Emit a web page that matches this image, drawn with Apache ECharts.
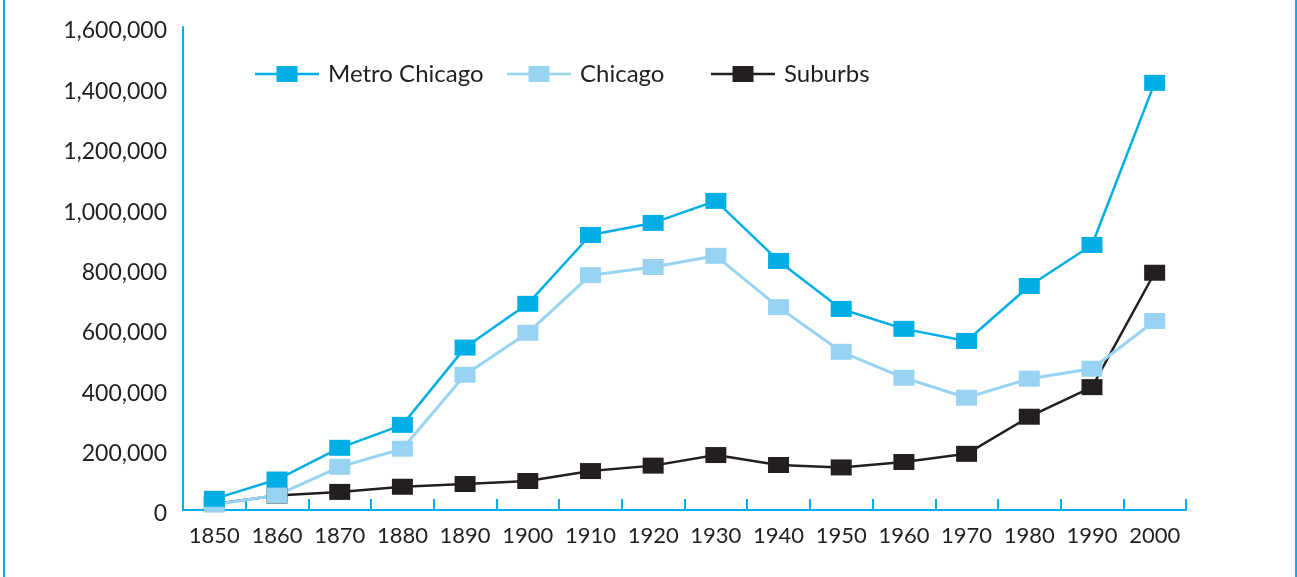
<!DOCTYPE html>
<html>
<head>
<meta charset="utf-8">
<script src="https://cdn.jsdelivr.net/npm/echarts@6/dist/echarts.min.js"></script>
<style>
  html, body { margin: 0; padding: 0; background: #fff; }
  #main { width: 1297px; height: 577px; }
</style>
</head>
<body>
<div id="main"></div>
<script>
// decades on the x axis
var years = ["1850", "1860", "1870", "1880", "1890", "1900", "1910", "1920",
  "1930", "1940", "1950", "1960", "1970", "1980", "1990", "2000"];
// values
var metroChicago = [37000, 101000, 206000, 282000, 538000, 683000, 911000, 951000,
  1024000, 825000, 666000, 600000, 560000, 742000, 878000, 1415000];
var chicago = [18000, 49000, 143000, 203000, 448000, 587000, 778000, 805000,
  842000, 672000, 524000, 438000, 372000, 435000, 468000, 626000];
var suburbs = [20000, 48000, 60000, 77000, 86000, 96000, 129000, 147000,
  182000, 149000, 141000, 159000, 186000, 309000, 407000, 786000];
var yTicks = [0, 200000, 400000, 600000, 800000, 1000000, 1200000, 1400000, 1600000];

var blue = "#00aee6";
var lightBlue = "#99d3f2";
var dark = "#231f20";
var axisBlue = "#00aeef";
var font = "Lato";

// legend icon: line with a square in the middle
var legendIcon = "path://M0,6.8L64,6.8L64,9.2L0,9.2Z M21.5,0L42.5,0L42.5,16L21.5,16Z";

function lineSeries(name, data, color, width) {
  return {
    name: name,
    type: "line",
    data: data,
    symbol: "rect",
    symbolSize: [21, 16],
    showSymbol: true,
    lineStyle: { color: color, width: width },
    itemStyle: { color: color },
    emphasis: { disabled: true },
  };
}

function legendAt(left, name) {
  return {
    left: left,
    top: 62,
    padding: 0,
    itemWidth: 64,
    itemHeight: 16,
    icon: legendIcon,
    selectedMode: false,
    data: [name],
    textStyle: {
      fontFamily: font,
      fontSize: 24,
      color: dark,
      padding: [0, 0, 0, 4],
    },
  };
}

var myChart = echarts.init(document.getElementById("main"));
var option = {
  animation: false,
  backgroundColor: "#fff",
  grid: { left: 183, right: 111, top: 27, bottom: 67 },
  legend: [
    legendAt(255, "Metro Chicago"),
    legendAt(507, "Chicago"),
    legendAt(711, "Suburbs"),
  ],
  xAxis: {
    type: "category",
    data: years,
    boundaryGap: true,
    axisLine: { lineStyle: { color: axisBlue, width: 2 } },
    axisTick: {
      show: true,
      inside: true,
      length: 11,
      interval: 0,
      lineStyle: { color: axisBlue, width: 2 },
    },
    axisLabel: {
      interval: 0,
      margin: 15,
      fontFamily: font,
      fontSize: 22,
      color: dark,
    },
  },
  yAxis: {
    type: "value",
    min: yTicks[0],
    max: yTicks[yTicks.length - 1],
    interval: yTicks[1] - yTicks[0],
    axisLine: { show: true, lineStyle: { color: axisBlue, width: 2 } },
    axisTick: { show: false },
    splitLine: { show: false },
    axisLabel: {
      margin: 16,
      fontFamily: font,
      fontSize: 23,
      color: dark,
      verticalAlign: "top",
      lineHeight: 8,
      formatter: function (v) {
        return v.toLocaleString("en-US");
      },
    },
  },
  // drawn bottom to top: suburbs, chicago, metro
  series: [
    lineSeries("Suburbs", suburbs, dark, 2.5),
    lineSeries("Chicago", chicago, lightBlue, 3),
    lineSeries("Metro Chicago", metroChicago, blue, 2.5),
  ],
  graphic: [
    { type: "rect", shape: { x: 3, y: 0, width: 2, height: 577 }, style: { fill: axisBlue }, silent: true },
    { type: "rect", shape: { x: 1295, y: 0, width: 2, height: 577 }, style: { fill: axisBlue }, silent: true },
  ],
};

option && myChart.setOption(option);
</script>
</body>
</html>
